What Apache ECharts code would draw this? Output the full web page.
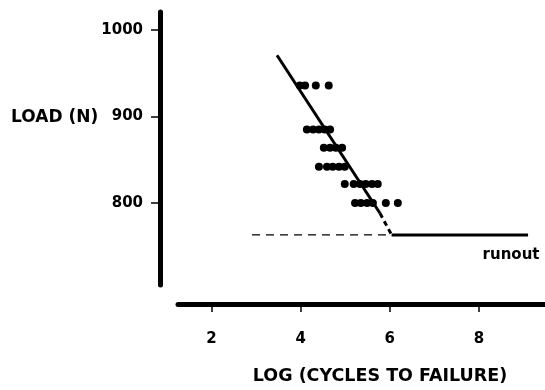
<!DOCTYPE html>
<html>
<head>
<meta charset="utf-8">
<script src="https://cdn.jsdelivr.net/npm/echarts@6/dist/echarts.min.js"></script>
<style>html,body{margin:0;padding:0;background:#fff}#c{width:545px;height:390px}</style>
</head>
<body>
<div id="c"></div>
<script>
// ---- data ----
var xTicks = [2, 4, 6, 8];
var yTicks = [800, 900, 1000];
var rowLoads = [936, 885, 864, 842, 822, 800];
var rowCycles = [
  [3.98, 4.10, 4.34, 4.63],
  [4.14, 4.28, 4.41, 4.54, 4.66],
  [4.52, 4.66, 4.79, 4.93],
  [4.41, 4.59, 4.72, 4.86, 4.99],
  [4.99, 5.19, 5.33, 5.46, 5.60, 5.73],
  [5.22, 5.35, 5.49, 5.62, 5.91, 6.18]
];
var fitX = [3.47, 5.78];
var fitY = [971, 788];
var fitTailX = [5.78, 6.04];
var fitTailY = [788, 763];
var runoutX = [6.04, 9.10];
var runoutY = [763, 763];
var refDashX = [2.91, 6.00];
var refDashY = [763, 763];
var runoutLabelPoint = [9.10, 763];
var runoutText = 'runout';
var xName = 'LOG (CYCLES TO FAILURE)';
var yName = 'LOAD (N)';

// ---- build ----
var points = [];
rowLoads.forEach(function (load, i) {
  rowCycles[i].forEach(function (c) { points.push([c, load]); });
});
function pairs(xs, ys) { return xs.map(function (x, i) { return [x, ys[i]]; }); }

var FONT = 'DejaVu Sans';
var chart = echarts.init(document.getElementById('c'), null, {renderer: 'canvas'});
chart.setOption({
  animation: false,
  backgroundColor: '#fff',
  title: {
    text: yName, left: 11, top: 108, padding: 0,
    textStyle: {fontFamily: FONT, fontWeight: 'bold', fontSize: 17, color: '#000', lineHeight: 20}
  },
  grid: {left: 178, right: 0, top: 12, bottom: 105, containLabel: false},
  xAxis: {
    type: 'value', min: 1.25, max: 9.48, offset: 19,
    name: xName, nameLocation: 'middle', nameGap: 72,
    nameTextStyle: {fontFamily: FONT, fontWeight: 'bold', fontSize: 17.5, color: '#000',
      align: 'center', verticalAlign: 'middle', padding: [0, 0, 0, 37]},
    axisLine: {show: true, lineStyle: {color: '#000', width: 5}},
    axisTick: {show: true, customValues: xTicks, length: 8, lineStyle: {color: '#000', width: 1.5}},
    axisLabel: {customValues: xTicks, margin: 28, fontFamily: FONT, fontWeight: 'bold', fontSize: 15, color: '#000'},
    splitLine: {show: false}
  },
  yAxis: {
    type: 'value', min: 705, max: 1021, offset: 18,
    axisLine: {show: true, lineStyle: {color: '#000', width: 5}},
    axisTick: {show: true, customValues: yTicks, length: 9, lineStyle: {color: '#000', width: 1.5}},
    axisLabel: {customValues: yTicks, margin: 17, fontFamily: FONT, fontWeight: 'bold', fontSize: 15, color: '#000',
      formatter: function (v) { return String(v); }},
    splitLine: {show: false}
  },
  series: [
    {type: 'scatter', data: points, symbol: 'circle', symbolSize: 8, itemStyle: {color: '#000', opacity: 1}},
    {type: 'line', data: pairs(fitX, fitY), symbol: 'none', lineStyle: {color: '#000', width: 3}},
    {type: 'line', data: pairs(fitTailX, fitTailY), symbol: 'none', lineStyle: {color: '#000', width: 3, type: [5, 4]}},
    {type: 'line', data: pairs(runoutX, runoutY), symbol: 'none', lineStyle: {color: '#000', width: 3}},
    {type: 'line', data: pairs(refDashX, refDashY), symbol: 'none', lineStyle: {color: '#000', width: 1.3, type: [8, 6]}},
    {type: 'scatter', data: [runoutLabelPoint], symbolSize: 0, silent: true, itemStyle: {opacity: 1},
      label: {show: true, formatter: runoutText, position: 'bottom', distance: 13, offset: [-17, 0],
        fontFamily: FONT, fontWeight: 'bold', fontSize: 15, color: '#000'}}
  ]
});
</script>
</body>
</html>
